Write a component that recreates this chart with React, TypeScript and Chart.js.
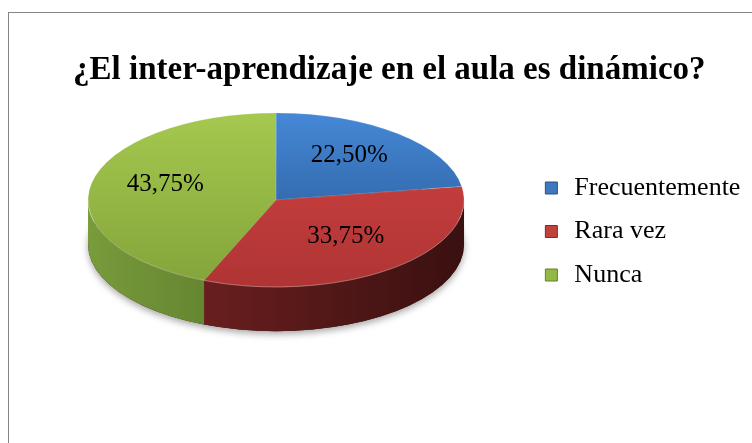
import React, { useEffect, useRef } from 'react';
import { Chart, registerables } from 'chart.js';

Chart.register(...registerables);

// ---------- data ----------
const TITLE = '¿El inter-aprendizaje en el aula es dinámico?';
const categories = ['Frecuentemente', 'Rara vez', 'Nunca'];
const percentages = [22.5, 33.75, 43.75];

// ---------- style ----------
const topLight = ['#4588d6', '#cf4442', '#a5c84f'];
const topDark = ['#24518b', '#b03434', '#83a43a'];
const sideLight = ['#2a4f80', '#7e2525', '#789b3b'];
const sideDark = ['#1b355a', '#3a1010', '#3d571b'];
const legendColors = ['#3f78bd', '#c0423f', '#93b846'];
const legendBorders = ['#24528a', '#8a2624', '#62822a'];

const SERIF = '"Liberation Serif", "Times New Roman", serif';
const PIE_RADIUS = 188;
const PIE_TILT = 0.463;
const PIE_DEPTH = 0.235;
const LABEL_RADIUS = 0.6;
const LABEL_LIFT = -5;

const fmt = (v: number) => v.toFixed(2).replace('.', ',') + '%';

function topFill(c: any) {
  const i = c.dataIndex;
  const area = c.chart.chartArea;
  if (!area || i === undefined) return topLight[i ?? 0];
  const cy = (area.top + area.bottom) / 2;
  const g = c.chart.ctx.createLinearGradient(0, cy - PIE_RADIUS, 0, cy + PIE_RADIUS);
  g.addColorStop(0, topLight[i]);
  g.addColorStop(1, topDark[i]);
  return g;
}

const pie3d = {
  id: 'pie3d',
  beforeDatasetsDraw(chart: any) {
    const arcs = chart.getDatasetMeta(0).data;
    if (!arcs.length) return;
    const { x: cx, y: cy, outerRadius: r } = arcs[0].getProps(['x', 'y', 'outerRadius'], true);
    const ry = r * PIE_TILT;
    const depth = r * PIE_DEPTH;
    const ctx = chart.ctx;
    ctx.save();
    // soft shadow under the pie
    ctx.save();
    ctx.shadowColor = 'rgba(0,0,0,0.35)';
    ctx.shadowBlur = 7;
    ctx.shadowOffsetY = 3;
    ctx.beginPath();
    ctx.ellipse(cx, cy + depth, r, ry, 0, 0, Math.PI * 2);
    ctx.fillStyle = '#3a1010';
    ctx.fill();
    ctx.restore();
    // side walls (front half only)
    arcs.forEach((arc: any, i: number) => {
      const { startAngle, endAngle } = arc.getProps(['startAngle', 'endAngle'], true);
      const grad = ctx.createLinearGradient(cx - r, 0, cx + r, 0);
      grad.addColorStop(0, sideLight[i]);
      grad.addColorStop(1, sideDark[i]);
      for (let n = -1; n <= 1; n++) {
        const a = Math.max(startAngle, n * 2 * Math.PI);
        const b = Math.min(endAngle, n * 2 * Math.PI + Math.PI);
        if (b <= a) continue;
        ctx.beginPath();
        ctx.ellipse(cx, cy, r, ry, 0, a, b, false);
        ctx.ellipse(cx, cy + depth, r, ry, 0, b, a, true);
        ctx.closePath();
        ctx.fillStyle = grad;
        ctx.fill();
      }
    });
    // flatten the top face
    ctx.translate(cx, cy);
    ctx.scale(1, PIE_TILT);
    ctx.translate(-cx, -cy);
  },
  afterDatasetsDraw(chart: any) {
    const ctx = chart.ctx;
    ctx.restore();
    const arcs = chart.getDatasetMeta(0).data;
    if (!arcs.length) return;
    const { x: cx, y: cy, outerRadius: r } = arcs[0].getProps(['x', 'y', 'outerRadius'], true);
    const ry = r * PIE_TILT;
    // rim highlight
    ctx.save();
    ctx.beginPath();
    ctx.ellipse(cx, cy, r, ry, 0, 0.08, Math.PI - 0.08);
    ctx.strokeStyle = 'rgba(255,255,255,0.22)';
    ctx.lineWidth = 1;
    ctx.stroke();
    ctx.restore();
    // value labels
    ctx.save();
    ctx.font = '25px ' + SERIF;
    ctx.fillStyle = '#000';
    ctx.textAlign = 'center';
    ctx.textBaseline = 'middle';
    arcs.forEach((arc: any, i: number) => {
      const { startAngle, endAngle } = arc.getProps(['startAngle', 'endAngle'], true);
      const mid = (startAngle + endAngle) / 2;
      const x = cx + Math.cos(mid) * r * LABEL_RADIUS;
      const y = cy + Math.sin(mid) * ry * LABEL_RADIUS + LABEL_LIFT;
      ctx.fillText(fmt(percentages[i]), x, y);
    });
    ctx.restore();
  },
};

export default function App() {
  const ref = useRef<HTMLCanvasElement>(null);
  useEffect(() => {
    if (!ref.current) return;
    const chart = new Chart(ref.current, {
      type: 'pie',
      data: {
        labels: categories,
        datasets: [
          {
            data: percentages,
            backgroundColor: topFill as any,
            borderWidth: 0.6,
            borderColor: 'rgba(255,255,255,0.35)',
            radius: PIE_RADIUS,
            clip: false as any,
          },
        ],
      },
      options: {
        responsive: false,
        animation: false,
        devicePixelRatio: 1,
        layout: { padding: { left: 19.2, right: 58.6, top: 0, bottom: 147.5 } },
        plugins: {
          title: {
            display: true,
            text: TITLE,
            color: '#000',
            font: { family: SERIF, size: 33, weight: 'bold', lineHeight: 1.2 },
            padding: { top: 37.2, bottom: 4.7 },
          },
          legend: {
            position: 'right',
            align: 'end',
            labels: {
              color: '#000',
              font: { family: SERIF, size: 26 },
              padding: 17.5,
              usePointStyle: true,
              pointStyle: 'rect',
              boxWidth: 20,
              boxHeight: 12,
              generateLabels: (ch: any) => {
                const items = (Chart as any).overrides.doughnut.plugins.legend.labels.generateLabels(ch);
                return items.map((it: any, i: number) => ({
                  ...it,
                  fillStyle: legendColors[i],
                  strokeStyle: legendBorders[i],
                  lineWidth: 1,
                  pointStyle: 'rect',
                }));
              },
            },
          },
          tooltip: { enabled: false },
        },
      } as any,
      plugins: [pie3d],
    });
    return () => chart.destroy();
  }, []);

  return (
    <div style={{ position: 'absolute', left: 0, top: 0, width: 752, height: 443, overflow: 'hidden', background: '#fff' }}>
      <div
        style={{
          position: 'absolute',
          left: 8,
          top: 12,
          width: 800,
          height: 500,
          borderLeft: '1px solid #868686',
          borderTop: '1px solid #868686',
        }}
      >
        <canvas ref={ref} width={800} height={440} style={{ display: 'block', width: 800, height: 440 }} />
      </div>
    </div>
  );
}
